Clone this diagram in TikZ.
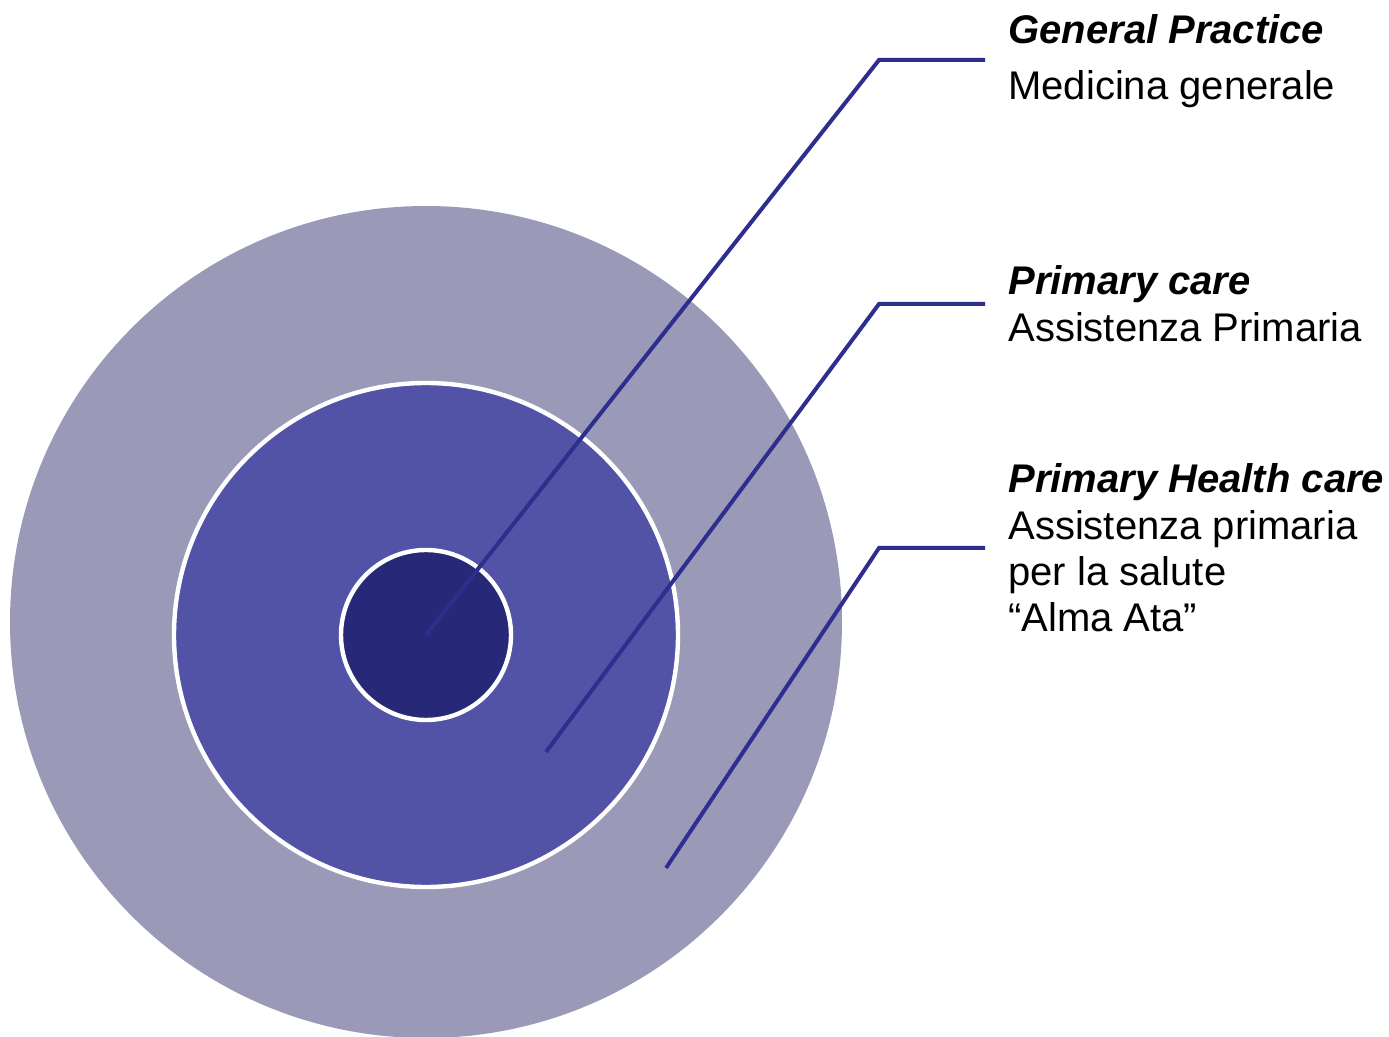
\documentclass[tikz,border=0pt]{standalone}
\usepackage{fontspec}
\setmainfont{Liberation Sans}
\definecolor{outerring}{HTML}{9A9AB8}
\definecolor{middlering}{HTML}{5252A6}
\definecolor{innerring}{HTML}{282878}
\definecolor{leader}{HTML}{2E2E8E}
\tikzstyle{ring} = [circle, draw=white, line width=2.2pt, inner sep=0pt]
\tikzstyle{title} = [anchor=base west, inner sep=0pt, font=\fontsize{20}{23}\selectfont\bfseries\itshape]
\tikzstyle{subtitle} = [anchor=base west, inner sep=0pt, align=left, font=\fontsize{20}{23}\selectfont]
\tikzstyle{line} = [draw=leader, line width=2pt]
\begin{document}
\begin{tikzpicture}[x=0.5pt, y=-0.5pt]
    \useasboundingbox (0,0) rectangle (1389,1037);
    % Place rings
    \node [ring, draw=none, fill=outerring, minimum size=832*0.5pt] (phc) at (426,622) {};
    \node [ring, fill=middlering, minimum size=504*0.5pt] (pc) at (426,635) {};
    \node [ring, fill=innerring, minimum size=170*0.5pt] (gp) at (426,635) {};
    % Place labels
    \node [title] (gptitle) at (1008,44) {General Practice};
    \node [subtitle] (gptext) at (1008,100) {Medicina generale};
    \node [title] (pctitle) at (1008,295) {Primary care};
    \node [subtitle] (pctext) at (1008,342) {Assistenza Primaria};
    \node [title] (phctitle) at (1008,493) {Primary Health care};
    % base of a wrapped node is its last line
    \node [subtitle] (phctext) at (1008,632) {Assistenza primaria\\per la salute\\``Alma Ata''};
    % Leader points
    \coordinate (gpin) at (gp.center);
    \coordinate (gpbend) at (879,60);
    \coordinate (gpend) at (985,60);
    \coordinate (pcin) at (546,752);
    \coordinate (pcbend) at (879,304);
    \coordinate (pcend) at (985,304);
    \coordinate (phcin) at (666,868);
    \coordinate (phcbend) at (879,548);
    \coordinate (phcend) at (985,548);
    % Draw leaders
    \path [line] (gpin) -- (gpbend) -- (gpend);
    \path [line] (pcin) -- (pcbend) -- (pcend);
    \path [line] (phcin) -- (phcbend) -- (phcend);
\end{tikzpicture}
\end{document}
